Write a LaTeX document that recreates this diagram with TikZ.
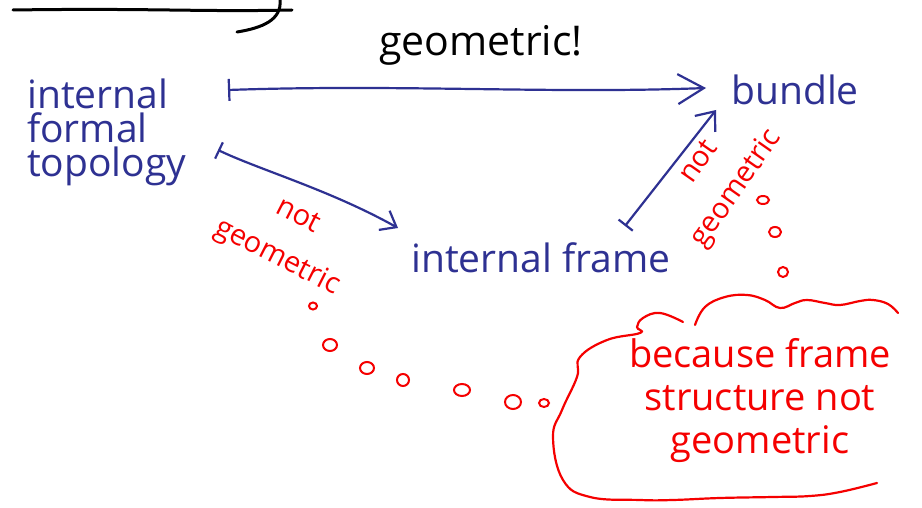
\documentclass[tikz,border=0pt]{standalone}
\usepackage{fontspec}
\setmainfont{Open Sans}
\usetikzlibrary{arrows.meta}
\definecolor{pen}{RGB}{46,49,146}
\definecolor{ink}{RGB}{245,0,0}
\begin{document}
\begin{tikzpicture}[x=1pt,y=-1pt,
  bluetxt/.style={text=pen, font=\fontsize{39}{34}\selectfont, inner sep=0pt},
  redtxt/.style={text=ink, font=\fontsize{38}{43}\selectfont, inner sep=0pt},
  smallred/.style={text=ink, font=\fontsize{29}{46}\selectfont, inner sep=0pt, align=center},
  blacktxt/.style={text=black, font=\fontsize{41}{41}\selectfont, inner sep=0pt},
  mapsarrow/.style={draw=pen, line width=2.2pt, line cap=round},
  bubble/.style={draw=ink, line width=2pt},
  cloudline/.style={draw=ink, line width=2.2pt, line cap=round}
]
\useasboundingbox (0,0) rectangle (922,508);
\fill[white] (0,0) rectangle (922,508);

% top-left stroke
\draw[line width=3pt, line cap=round] (13,10) .. controls (150,8) and (200,12) .. (292,10);
\draw[line width=3pt, line cap=round] (237,32) .. controls (262,28) and (282,20) .. (280,0);

% texts
\node[blacktxt] (geo) at (481,45) {geometric!};
\node[bluetxt, anchor=west, align=left] (ift) at (27,132) {internal\\formal\\topology};
\node[bluetxt] (bundle) at (795,90) {bundle};
\node[bluetxt] (frame) at (541,258) {internal frame};

% arrow ends
\coordinate (a1s) at (228,90);
\coordinate (a1e) at (706,88);
\coordinate (a2s) at (218,150);
\coordinate (a2e) at (398,228);
\coordinate (a3s) at (625,226);
\coordinate (a3e) at (716,110);

\draw[mapsarrow, {Bar[width=22pt]}-{Straight Barb[length=26pt,width=30pt]}] (a1s) .. controls (400,84) and (550,94) .. (a1e);
\draw[mapsarrow, {Bar[width=18pt]}-{Straight Barb[length=14pt,width=22pt]}] (a2s) .. controls (260,170) and (330,190) .. (a2e);
\draw[mapsarrow, {Bar[width=18pt]}-{Straight Barb[length=16pt,width=26pt]}] (a3s) -- (a3e);

% red labels
\node[smallred, rotate=-27] (ng1) at (287,238) {not\hspace{36pt}\\geometric};
\node[smallred, rotate=55] (ng2) at (719,176) {not\\geometric};

% thought bubbles
\draw[bubble] (313,306) ellipse (4 and 3.5);
\draw[bubble] (330,345) ellipse (7 and 6);
\draw[bubble] (367,368) ellipse (7 and 6);
\draw[bubble] (403,380) ellipse (6 and 6);
\draw[bubble] (462,390) ellipse (8 and 6);
\draw[bubble] (513,402) ellipse (8 and 7);
\draw[bubble] (544,403) ellipse (5 and 4);
\draw[bubble] (763,200) ellipse (6 and 4);
\draw[bubble] (775,232) ellipse (6 and 5);
\draw[bubble] (783,272) ellipse (5 and 5);

% cloud
\draw[cloudline] plot[smooth, tension=0.7] coordinates {(683,322) (660,313) (643,318) (637,327) (640,333) (607,340) (580,357) (577,377) (562,410) (553,437) (563,480) (590,497) (640,500) (673,500) (720,498) (773,497) (810,496) (840,492) (877,483)};
\draw[cloudline] plot[smooth, tension=0.7] coordinates {(695,325) (705,307) (725,297) (747,295) (765,300) (780,308) (795,303) (807,300) (825,303) (840,305) (860,301) (873,300) (888,304) (898,313)};

\node[redtxt, align=center] (cloudtxt) at (760,401) {because frame\\structure not\\geometric};
\end{tikzpicture}
\end{document}
